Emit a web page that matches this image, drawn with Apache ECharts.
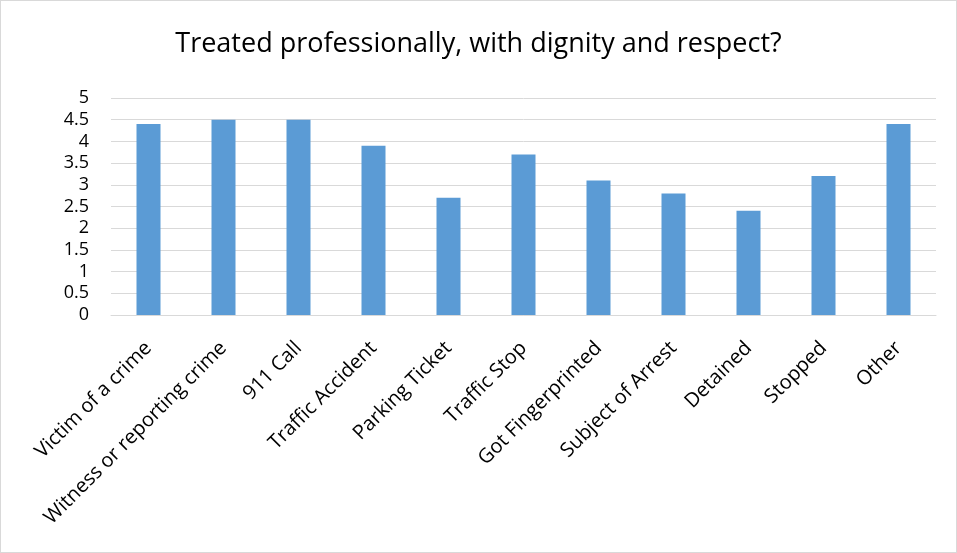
<!DOCTYPE html>
<html><head><meta charset="utf-8">
<script src="https://cdn.jsdelivr.net/npm/echarts@6/dist/echarts.min.js"></script>
<style>html,body{margin:0;padding:0;background:#fff}#c{width:957px;height:553px;box-sizing:border-box;border:1px solid #d9d9d9}</style>
</head><body><div id="c"></div>
<script>
const categories = ["Victim of a crime","Witness or reporting crime","911 Call","Traffic Accident","Parking Ticket","Traffic Stop","Got Fingerprinted","Subject of Arrest","Detained","Stopped","Other"];
const values = [4.4, 4.5, 4.5, 3.9, 2.7, 3.7, 3.1, 2.8, 2.4, 3.2, 4.4];
const titleText = "Treated professionally, with dignity and respect?";
const chart = echarts.init(document.getElementById('c'), null, {renderer:'canvas'});
const font = "'Open Sans', 'Liberation Sans', sans-serif";
chart.setOption({
  animation:false,
  title:{text:titleText,left:'center',top:25,textStyle:{fontFamily:font,fontSize:27,fontWeight:'normal',color:'#000'}},
  grid:{left:110,right:20,top:97,bottom:237,containLabel:false},
  xAxis:{type:'category',data:categories,
    axisLine:{lineStyle:{color:'#d9d9d9',width:1}},axisTick:{show:false},
    axisLabel:{rotate:45,interval:0,fontFamily:font,fontSize:20,color:'#000',margin:30}},
  yAxis:{type:'value',min:0,max:5,interval:0.5,
    axisLine:{show:false},axisTick:{show:false},
    splitLine:{lineStyle:{color:'#d9d9d9',width:1}},
    axisLabel:{fontFamily:font,fontSize:18,color:'#000',margin:22}},
  series:[{type:'bar',data:values,barWidth:24,itemStyle:{color:'#5B9BD5'}}]
});
</script></body></html>
